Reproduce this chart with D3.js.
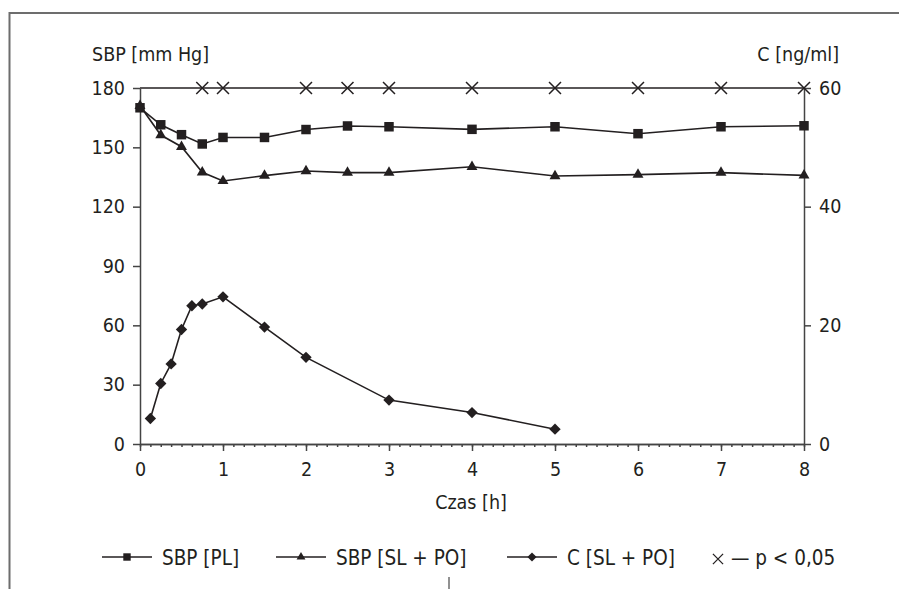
<!DOCTYPE html>
<html>
<head>
<meta charset="utf-8">
<script src="https://cdn.jsdelivr.net/npm/d3@7"></script>
<style>
  body { margin: 0; background: #fff; }
  svg text { font-family: "DejaVu Sans Condensed", "DejaVu Sans", sans-serif; font-stretch: condensed; fill: #231f20; }
</style>
</head>
<body>
<div id="mainArea"></div>
<script>
// data
var hours = [0, 0.25, 0.5, 0.75, 1, 1.5, 2, 2.5, 3, 4, 5, 6, 7, 8];
var sbpPL = [170, 161.4, 156.4, 151.7, 155, 155, 159, 160.8, 160.4, 159.1, 160.4, 156.9, 160.4, 160.9];
var sbpSLPO = [171, 156.2, 150.3, 137.4, 133, 135.7, 138, 137.2, 137.2, 140.2, 135.5, 136.2, 137.2, 135.8];
var concHours = [0.125, 0.25, 0.375, 0.5, 0.625, 0.75, 1, 1.5, 2, 3, 4, 5];
var conc = [4.3, 10.2, 13.5, 19.3, 23.3, 23.6, 24.8, 19.7, 14.6, 7.4, 5.3, 2.5];
var sigHours = [0.75, 1, 2, 2.5, 3, 4, 5, 6, 7, 8];
var leftTicks = [0, 30, 60, 90, 120, 150, 180];
var rightTicks = [0, 20, 40, 60];
var xTicks = [0, 1, 2, 3, 4, 5, 6, 7, 8];
var legendNames = ["SBP [PL]", "SBP [SL + PO]", "C [SL + PO]"];

function mainInit() {
  var width = 899, height = 589;
  var ink = "#231f20";
  var vis = d3.select("#mainArea").append("svg")
      .attr("width", width).attr("height", height);

  // page frame
  vis.append("path").attr("d", "M9.5,589V13H899")
     .attr("fill", "none").attr("stroke", "#6d6d6d").attr("stroke-width", 2);
  vis.append("line").attr("x1", 449).attr("x2", 449).attr("y1", 577).attr("y2", 589)
     .attr("stroke", "#6d6d6d").attr("stroke-width", 1.5);

  var x = d3.scaleLinear().domain([0, 8]).range([140, 804]);
  var yL = d3.scaleLinear().domain([0, 180]).range([444, 88]);
  var yR = d3.scaleLinear().domain([0, 60]).range([444, 88]);

  // top line
  vis.append("line").attr("x1", x(0)).attr("x2", x(8)).attr("y1", yL(180)).attr("y2", yL(180))
     .attr("stroke", ink).attr("stroke-width", 1.3);

  var axisStyle = function(g) {
    g.selectAll("path, line").attr("stroke", "#444").attr("stroke-width", 1.5);
    g.selectAll("text").attr("font-size", "19.5px").attr("fill", ink)
     .attr("font-family", null);
  };

  vis.append("g").attr("transform", "translate(" + x(0) + ",0)")
     .call(d3.axisLeft(yL).tickValues(leftTicks).tickSize(7).tickSizeOuter(0).tickPadding(8))
     .call(axisStyle);
  vis.append("g").attr("transform", "translate(" + x(8) + ",0)")
     .call(d3.axisRight(yR).tickValues(rightTicks).tickSize(7).tickSizeOuter(0).tickPadding(8))
     .call(axisStyle);
  // minor ticks every 1/8 h
  vis.append("g").attr("transform", "translate(0," + yL(0) + ")")
     .call(d3.axisBottom(x).tickValues(d3.range(0, 65).map(function(i) { return i / 8; }))
       .tickSize(3).tickSizeOuter(0).tickFormat(""))
     .call(axisStyle);
  vis.append("g").attr("transform", "translate(0," + yL(0) + ")")
     .call(d3.axisBottom(x).tickValues(xTicks).tickSize(7).tickSizeOuter(0).tickPadding(11))
     .call(axisStyle);

  // axis titles
  vis.append("text").attr("x", 92).attr("y", 61).attr("font-size", "19.5px").text("SBP [mm Hg]");
  vis.append("text").attr("x", 839).attr("y", 61).attr("text-anchor", "end").attr("font-size", "19.5px").text("C [ng/ml]");
  vis.append("text").attr("x", 471).attr("y", 509).attr("text-anchor", "middle").attr("font-size", "19.5px").text("Czas [h]");

  // series lines
  var line = function(xs, ys, sc) {
    return d3.line().x(function(d, i) { return x(xs[i]); }).y(function(d) { return sc(d); })(ys);
  };
  [[hours, sbpPL, yL], [hours, sbpSLPO, yL], [concHours, conc, yR]].forEach(function(s) {
    vis.append("path").attr("d", line(s[0], s[1], s[2]))
       .attr("fill", "none").attr("stroke", ink).attr("stroke-width", 1.6);
  });

  var sq = d3.symbol().type(d3.symbolSquare).size(90);
  var tri = d3.symbol().type(d3.symbolTriangle).size(52);
  var dia = d3.symbol().type(d3.symbolSquare).size(64);

  vis.selectAll("path.pl").data(sbpPL).enter().append("path")
     .attr("d", sq).attr("fill", ink)
     .attr("transform", function(d, i) { return "translate(" + x(hours[i]) + "," + yL(d) + ")"; });
  vis.selectAll("path.sl").data(sbpSLPO).enter().append("path")
     .attr("d", tri).attr("fill", ink)
     .attr("transform", function(d, i) { return "translate(" + x(hours[i]) + "," + yL(d) + ")"; });
  vis.selectAll("path.c").data(conc).enter().append("path")
     .attr("d", dia).attr("fill", ink)
     .attr("transform", function(d, i) { return "translate(" + x(concHours[i]) + "," + yR(d) + ") rotate(45)"; });

  var cross = d3.symbol().type(d3.symbolX).size(95);
  vis.selectAll("path.sig").data(sigHours).enter().append("path")
     .attr("d", cross).attr("fill", "none").attr("stroke", ink).attr("stroke-width", 1.5)
     .attr("transform", function(d) { return "translate(" + x(d) + "," + yL(180) + ")"; });

  // legend
  var legY = 557;
  var legX = [102, 276, 507];
  var legSym = [
    d3.symbol().type(d3.symbolSquare).size(55),
    d3.symbol().type(d3.symbolTriangle).size(34),
    d3.symbol().type(d3.symbolSquare).size(42)
  ];
  legendNames.forEach(function(name, i) {
    var g = vis.append("g").attr("transform", "translate(" + legX[i] + "," + legY + ")");
    g.append("line").attr("x1", 0).attr("x2", 50).attr("stroke", ink).attr("stroke-width", 1.6);
    g.append("path").attr("d", legSym[i]).attr("fill", ink)
     .attr("transform", "translate(25,0)" + (i === 2 ? " rotate(45)" : ""));
    g.append("text").attr("x", 60).attr("y", 8).attr("font-size", "20.5px").text(name);
  });
  vis.append("path").attr("d", cross).attr("fill", "none").attr("stroke", ink).attr("stroke-width", 1.5)
     .attr("transform", "translate(718," + (legY + 2) + ") scale(0.85)");
  vis.append("text").attr("x", 731).attr("y", legY + 8).attr("font-size", "20.5px").text("\u2014 p < 0,05");
}

window.onload = mainInit;
</script>
</body>
</html>
